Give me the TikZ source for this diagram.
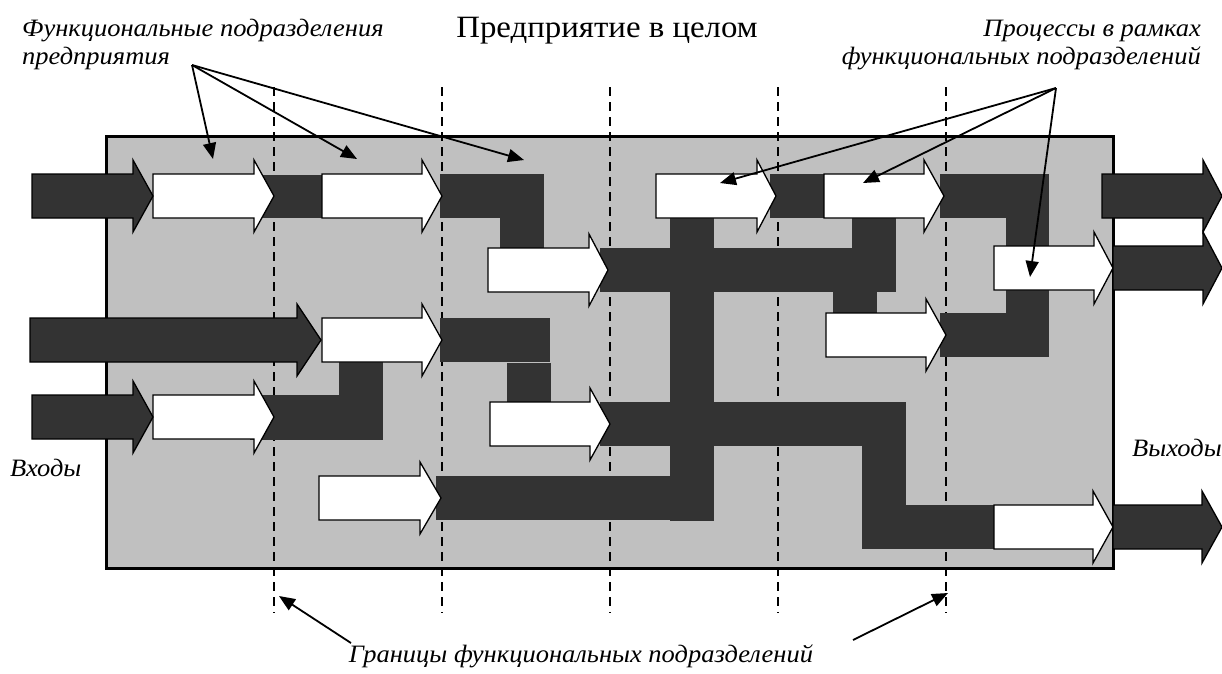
\documentclass[tikz,border=0pt]{standalone}
\usepackage{fontspec}
\setmainfont{Liberation Serif}
\newfontfamily\labfont[FakeStretch=1.06]{Liberation Serif}
\newfontfamily\ttlfont[FakeStretch=1.06]{Liberation Serif}
\usetikzlibrary{arrows.meta}
\definecolor{boxgray}{RGB}{192,192,192}
\definecolor{bardark}{RGB}{51,51,51}
\newcommand{\blockarr}[5]{\draw[#1] (#2,{#5-22}) -- (#3,{#5-22}) -- (#3,{#5-36}) -- (#4,#5) -- (#3,{#5+36}) -- (#3,{#5+22}) -- (#2,{#5+22}) -- cycle;}
\begin{document}
\begin{tikzpicture}[x=1pt,y=-1pt,
  frame/.style={fill=boxgray,draw=black,line width=3pt},
  border/.style={dashed,line width=1.2pt,dash pattern=on 9pt off 6pt},
  bar/.style={fill=bardark,draw=none},
  warrow/.style={fill=white,draw=black,line width=1.3pt,line join=miter},
  darrow/.style={fill=bardark,draw=black,line width=1.3pt,line join=miter},
  lab/.style={font=\labfont\itshape\fontsize{25}{29}\selectfont,inner sep=0pt},
  ttl/.style={font=\ttlfont\fontsize{31}{35}\selectfont,inner sep=0pt},
  labarrow/.style={line width=1.8pt,-{Triangle[length=16pt,width=13pt]}}]
\useasboundingbox (0,0) rectangle (1222,673);
% enterprise box
\draw[frame] (106,136) rectangle (1113,568);
% boundaries
\foreach \x in {274,442,610,778,946} \draw[border] (\x,87) -- (\x,613);
% dark flow bars
\fill[bar] (250,175) rectangle (322,218);
\fill[bar] (440,174) rectangle (544,218);
\fill[bar] (500,217) rectangle (544,249);
\fill[bar] (770,174) rectangle (825,218);
\fill[bar] (940,174) rectangle (1049,218);
\fill[bar] (1006,217) rectangle (1049,249);
\fill[bar] (1006,289) rectangle (1049,357);
\fill[bar] (940,313) rectangle (1049,357);
\fill[bar] (600,248) rectangle (896,292);
\fill[bar] (852,217) rectangle (896,249);
\fill[bar] (833,291) rectangle (877,314);
\fill[bar] (670,217) rectangle (714,521);
\fill[bar] (440,318) rectangle (550,362);
\fill[bar] (507,363) rectangle (551,403);
\fill[bar] (250,395) rectangle (383,440);
\fill[bar] (339,361) rectangle (383,440);
\fill[bar] (600,402) rectangle (906,446);
\fill[bar] (862,445) rectangle (906,549);
\fill[bar] (862,505) rectangle (1000,549);
\fill[bar] (436,476) rectangle (714,520);
% process arrows (white)
\blockarr{warrow}{153}{254}{274}{196}
\blockarr{warrow}{322}{422}{442}{196}
\blockarr{warrow}{656}{757}{776}{196}
\blockarr{warrow}{824}{924}{944}{196}
\blockarr{warrow}{994}{1094}{1113}{268}
\blockarr{warrow}{826}{926}{946}{335}
\blockarr{warrow}{994}{1093}{1113}{527}
\blockarr{warrow}{488}{589}{608}{270}
\blockarr{warrow}{322}{422}{442}{340}
\blockarr{warrow}{153}{254}{274}{417}
\blockarr{warrow}{490}{590}{610}{424}
\blockarr{warrow}{319}{420}{441}{498}
% inputs
\blockarr{darrow}{32}{133}{153}{196}
\blockarr{darrow}{30}{297}{321}{340}
\blockarr{darrow}{32}{133}{153}{417}
% outputs
\blockarr{darrow}{1102}{1203}{1222}{196}
\blockarr{darrow}{1113}{1203}{1222}{268}
\blockarr{darrow}{1113}{1202}{1222}{527}
% texts
\node[ttl,anchor=base] (title) at (607,37) {Предприятие в целом};
\node[lab,anchor=base west] (funcA) at (22,36) {Функциональные подразделения};
\node[lab,anchor=base west] (funcB) at (22,64) {предприятия};
\node[lab,anchor=base east] (procA) at (1201,36) {Процессы в рамках};
\node[lab,anchor=base east] (procB) at (1201,64) {функциональных подразделений};
\node[lab,anchor=base west] (inp) at (10,476) {Входы};
\node[lab,anchor=base west] (outp) at (1132,456) {Выходы};
\node[lab,anchor=base] (bnd) at (581,662) {Границы функциональных подразделений};
% label connectors
\coordinate (fo) at (192,65);
\coordinate (ft1) at (213,159);
\coordinate (ft2) at (357,159);
\coordinate (ft3) at (524,160);
\coordinate (po) at (1056,88);
\coordinate (pt1) at (720,183);
\coordinate (pt2) at (863,183);
\coordinate (pt3) at (1030,277);
\coordinate (bo1) at (351,643);
\coordinate (bt1) at (279,596);
\coordinate (bo2) at (853,640);
\coordinate (bt2) at (948,593);
\draw[labarrow] (fo) -- (ft1);
\draw[labarrow] (fo) -- (ft2);
\draw[labarrow] (fo) -- (ft3);
\draw[labarrow] (po) -- (pt1);
\draw[labarrow] (po) -- (pt2);
\draw[labarrow] (po) -- (pt3);
\draw[labarrow] (bo1) -- (bt1);
\draw[labarrow] (bo2) -- (bt2);
\end{tikzpicture}
\end{document}
